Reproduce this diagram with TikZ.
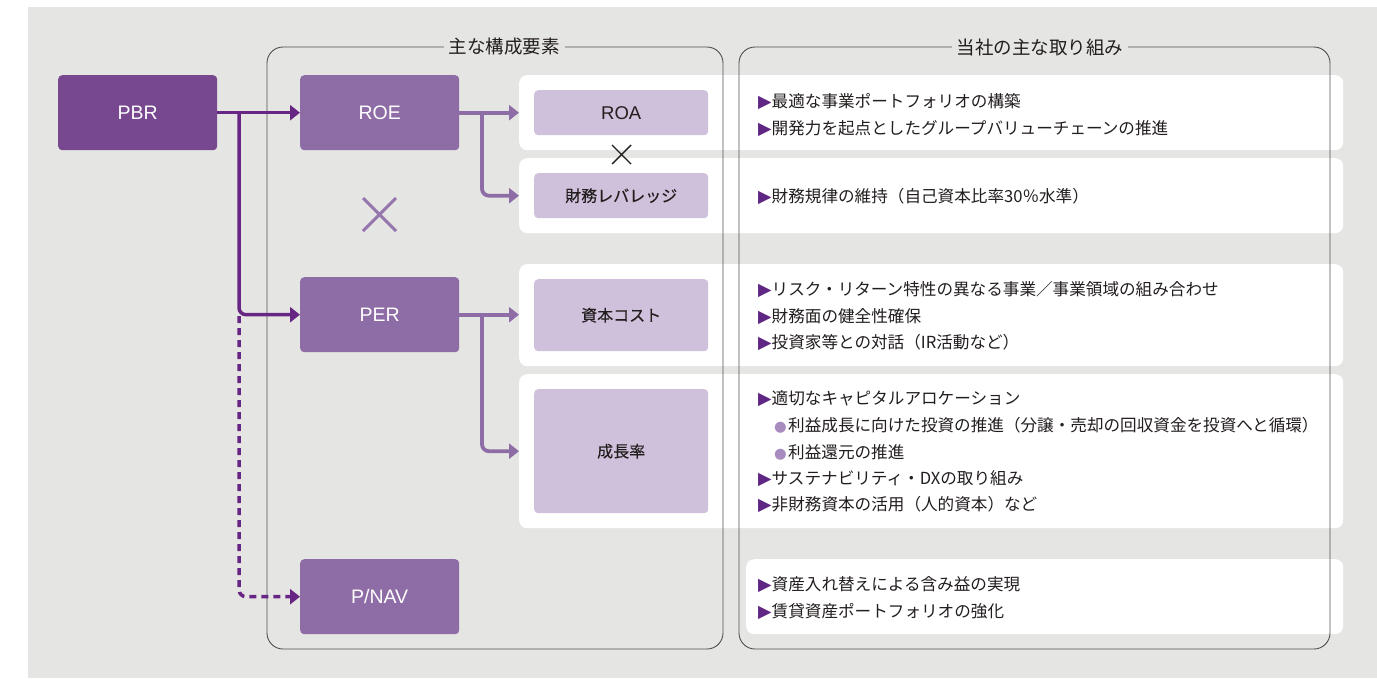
\documentclass[tikz,border=0pt]{standalone}
\usepackage{fontspec}
\setmainfont{Liberation Sans}
\newfontfamily\jp{Noto Sans CJK JP}
\newfontfamily\jpb{Noto Sans CJK JP}[FakeBold=0.3]
\newfontfamily\djvfont{DejaVu Sans}
\usetikzlibrary{arrows.meta}
\definecolor{bg}{RGB}{229,229,227}
\definecolor{pbrc}{RGB}{119,72,143}
\definecolor{midc}{RGB}{142,108,166}
\definecolor{darkarr}{RGB}{104,38,132}
\definecolor{lav}{RGB}{207,193,219}
\definecolor{framec}{RGB}{80,80,80}
\definecolor{txt}{RGB}{35,30,30}
\definecolor{tric}{RGB}{96,38,132}
\definecolor{dotc}{RGB}{168,140,192}
\definecolor{bigx}{RGB}{150,118,175}
\newcommand\tri{\makebox[13.5pt][l]{\djvfont\fontsize{17.5}{17.5}\selectfont\color{tric}▶}}
\newcommand\dotb{\makebox[14pt][l]{\djvfont\fontsize{14.5}{14.5}\selectfont\color{dotc}●}}
\tikzset{
  mainbox/.style={rectangle, rounded corners=4pt, minimum width=159pt, minimum height=75pt, inner sep=0pt, anchor=north west, font=\fontsize{19.5}{19.5}\selectfont, text=white},
  pbrbox/.style={mainbox, fill=pbrc},
  midbox/.style={mainbox, fill=midc},
  lavbox/.style={rectangle, rounded corners=4pt, fill=lav, minimum width=174pt, inner sep=0pt, anchor=north west, text=txt, font=\jpb\fontsize{16}{16}\selectfont},
  panel/.style={rectangle, fill=white, rounded corners=8pt, inner sep=0pt, anchor=north west},
  frame/.style={draw=framec, line width=0.9pt, rounded corners=16pt},
  titlebox/.style={fill=bg, inner xsep=5pt, inner ysep=3pt, text=txt, font=\jp\fontsize{18.5}{18.5}\selectfont},
  item/.style={anchor=base west, inner sep=0pt, text=txt, font=\jp\fontsize{16.6}{16.6}\selectfont},
  darkarrow/.style={draw=darkarr, line width=3.5pt, -{Triangle[length=10pt,width=15pt]}},
  lightarrow/.style={draw=midc, line width=3.8pt, -{Triangle[length=10pt,width=15pt]}},
  dashline/.style={dash pattern=on 7pt off 5pt},
}
\begin{document}
\begin{tikzpicture}[x=1pt, y=-1pt]
\useasboundingbox (0,0) rectangle (1377,678);
\fill[white] (0,0) rectangle (1377,678);
\fill[bg] (28,7) rectangle (1377,678);
% white panels
\node[panel, minimum width=824pt, minimum height=75pt] (p1) at (519,75) {};
\node[panel, minimum width=824pt, minimum height=75pt] (p2) at (519,158) {};
\node[panel, minimum width=824pt, minimum height=102pt] (p3) at (519,264) {};
\node[panel, minimum width=824pt, minimum height=154pt] (p4) at (519,374) {};
\node[panel, minimum width=597pt, minimum height=75pt] (p5) at (746,559) {};
% frames
\draw[frame] (267,47) rectangle (723,649);
\draw[frame] (739,47) rectangle (1330,649);
\node[titlebox] (t1) at (504,47) {主な構成要素};
\node[titlebox] (t2) at (1040,47) {当社の主な取り組み};
% boxes
\node[pbrbox] (pbr) at (58,75) {PBR};
\node[midbox] (roe) at (300,75) {ROE};
\node[midbox] (per) at (300,277) {PER};
\node[midbox] (pnav) at (300,559) {P/NAV};
\node[lavbox, minimum height=45pt, font=\fontsize{18.5}{18.5}\selectfont] (roa) at (534,90) {ROA};
\node[lavbox, minimum height=45pt] (lev) at (534,173) {財務レバレッジ};
\node[lavbox, minimum height=72pt] (cost) at (534,279) {資本コスト};
\node[lavbox, minimum height=124pt] (growth) at (534,389) {成長率};
% multiplication marks
\draw[draw=bigx, line width=3pt] (363,198) -- (396,231) (363,231) -- (396,198);
\draw[draw=txt, line width=1.4pt] (612,145) -- (631,164) (612,164) -- (631,145);
% dark connectors
\coordinate (j1) at (239,112.5);
\coordinate (j2) at (239,316);
\draw[darkarrow] (pbr.east) -- (roe.west);
\draw[darkarrow, rounded corners=7pt] (j1) |- (per.west);
\draw[darkarrow, dashline, rounded corners=7pt] (j2) |- (pnav.west);
% light connectors
\coordinate (b1) at (482,112.5);
\coordinate (b2) at (482,314.5);
\draw[lightarrow] (roe.east) -- (roe.east -| p1.west);
\draw[lightarrow, rounded corners=7pt] (b1) |- (p2.west);
\draw[lightarrow] (per.east) -- (per.east -| p3.west);
\draw[lightarrow, rounded corners=7pt] (b2) |- (p4.west);
% texts
\node[item] (r1a) at (758,107) {\tri 最適な事業ポートフォリオの構築};
\node[item] (r1b) at (758,134) {\tri 開発力を起点としたグループバリューチェーンの推進};
\node[item] (r2a) at (758,202) {\tri 財務規律の維持（自己資本比率30％水準）};
\node[item] (r3a) at (758,295) {\tri リスク・リターン特性の異なる事業／事業領域の組み合わせ};
\node[item] (r3b) at (758,322) {\tri 財務面の健全性確保};
\node[item] (r3c) at (758,348) {\tri 投資家等との対話（IR活動など）};
\node[item] (r4a) at (758,404) {\tri 適切なキャピタルアロケーション};
\node[item] (r4b) at (774,431) {\dotb 利益成長に向けた投資の推進（分譲・売却の回収資金を投資へと循環）};
\node[item] (r4c) at (774,458) {\dotb 利益還元の推進};
\node[item] (r4d) at (758,484) {\tri サステナビリティ・DXの取り組み};
\node[item] (r4e) at (758,510) {\tri 非財務資本の活用（人的資本）など};
\node[item] (r5a) at (758,590) {\tri 資産入れ替えによる含み益の実現};
\node[item] (r5b) at (758,617) {\tri 賃貸資産ポートフォリオの強化};
\end{tikzpicture}
\end{document}
